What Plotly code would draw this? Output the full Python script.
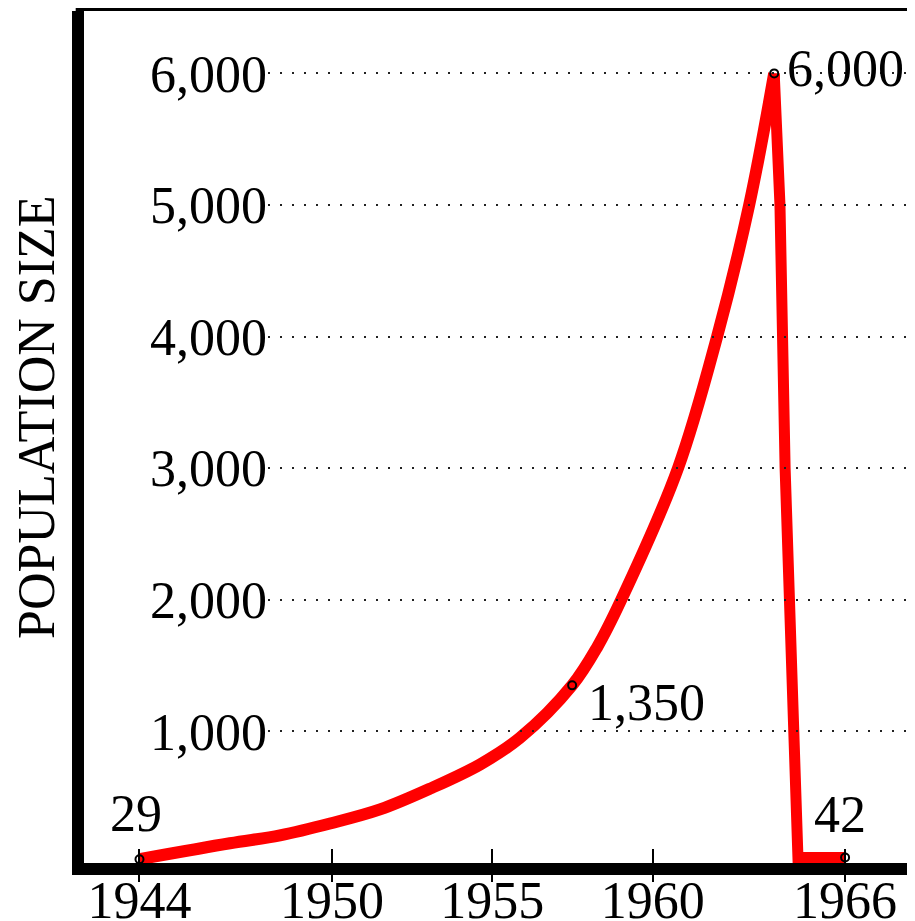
import plotly.graph_objects as go

# ---- data ----
rise_years = [1944.0, 1946.82, 1948.38, 1949.94, 1951.50, 1953.06, 1954.62, 1955.86,
              1957.49, 1958.27, 1959.02, 1960.79, 1962.01, 1963.01, 1963.79]
rise_pop = [29, 150, 210, 300, 407, 565, 749, 950, 1350, 1640, 2000, 3000, 4000, 5000, 6000]

drop_years = [1963.79, 1963.97, 1964.13, 1964.44, 1964.53, 1966.0]
drop_pop = [6000, 5000, 3000, 1000, 42, 42]

label_years = [1944, 1957.49, 1963.79, 1966]
label_pop = [29, 1350, 6000, 42]
label_text = ["29", "1,350", "6,000", "42"]

x_ticks = [1944, 1950, 1955, 1960, 1966]
y_ticks = [1000, 2000, 3000, 4000, 5000, 6000]

y_title = "POPULATION SIZE"

# ---- style ----
FONT = "Liberation Serif, Times New Roman, serif"
FS = 52
RED = "#ff0000"
X_RANGE = [1942.27, 1968.18]
Y_RANGE = [0, 6474]
W, H = 907, 913  # page body has an 8px margin inside the 915x921 window

fig = go.Figure()

fig.add_trace(go.Scatter(
    x=rise_years, y=rise_pop, mode="lines",
    line=dict(color=RED, width=12, shape="spline", smoothing=1.0),
    xaxis="x", yaxis="y", hoverinfo="skip", showlegend=False,
))
fig.add_trace(go.Scatter(
    x=drop_years, y=drop_pop, mode="lines",
    line=dict(color=RED, width=11),
    xaxis="x", yaxis="y", hoverinfo="skip", showlegend=False,
))
fig.add_trace(go.Scatter(
    x=label_years, y=label_pop, mode="markers",
    marker=dict(symbol="circle-open", size=8, color="black", line=dict(width=2)),
    xaxis="x", yaxis="y", hoverinfo="skip", showlegend=False,
))
# dummy traces so the overlay axes are drawn
fig.add_trace(go.Scatter(x=[x_ticks[0]], y=[None], xaxis="x3", yaxis="y",
                         mode="markers", hoverinfo="skip", showlegend=False))
fig.add_trace(go.Scatter(x=[0.5], y=[None], xaxis="x2", yaxis="y2",
                         mode="markers", hoverinfo="skip", showlegend=False))

# label placement styles (anchor, shift in px)
label_style = [
    dict(xanchor="center", yanchor="middle", xshift=-3, yshift=46),
    dict(xanchor="left", yanchor="middle", xshift=14, yshift=-17),
    dict(xanchor="left", yanchor="middle", xshift=11, yshift=5),
    dict(xanchor="center", yanchor="middle", xshift=-5, yshift=43),
]
annotations = []
for xv, yv, t, st in zip(label_years, label_pop, label_text, label_style):
    annotations.append(dict(x=xv, y=yv, xref="x", yref="y", text=t, showarrow=False,
                            font=dict(family=FONT, size=FS, color="black"), **st))

annotations.append(dict(x=-0.0566, y=0.5235, xref="paper", yref="paper", text=y_title,
                        textangle=-90, showarrow=False, xanchor="center", yanchor="middle",
                        font=dict(family=FONT, size=FS, color="black")))

fig.update_layout(
    width=W, height=H,
    margin=dict(l=76, r=0, t=3, b=58, autoexpand=False),
    paper_bgcolor="white", plot_bgcolor="rgba(0,0,0,0)",
    showlegend=False,
    annotations=annotations,
    xaxis=dict(domain=[0, 1], range=X_RANGE, showline=True, linewidth=12, linecolor="black",
               ticks="outside", ticklen=7, tickwidth=2, tickcolor="black",
               tickvals=x_ticks, ticktext=[str(v) for v in x_ticks],
               tickfont=dict(family=FONT, size=FS, color="black"), ticklabelstandoff=-26,
               showgrid=False, zeroline=False, anchor="y", automargin=False),
    xaxis3=dict(overlaying="x", matches="x", anchor="y", side="bottom",
                ticks="inside", ticklen=14, tickwidth=2, tickcolor="black",
                tickvals=x_ticks, showticklabels=False, showline=False,
                showgrid=False, zeroline=False, automargin=False),
    yaxis=dict(domain=[0, 1], range=Y_RANGE, showline=True, linewidth=12, linecolor="black",
               showticklabels=False, ticks="", showgrid=False, zeroline=False, anchor="x",
               automargin=False),
    xaxis2=dict(domain=[0.2214, 1], range=[0, 1], visible=False, anchor="y2", automargin=False),
    yaxis2=dict(domain=[0, 1], range=Y_RANGE, matches="y", anchor="x2",
                tickvals=y_ticks, tickformat=",", ticks="",
                tickfont=dict(family=FONT, size=FS, color="black"),
                showgrid=True, gridcolor="#222222", gridwidth=2, griddash="2px,10px",
                showline=False, zeroline=False, automargin=False),
    shapes=[dict(type="line", xref="paper", yref="paper", x0=-0.01, x1=1, y0=1.003, y1=1.003,
                 line=dict(color="black", width=5))],
)

fig.write_html("out.html")
